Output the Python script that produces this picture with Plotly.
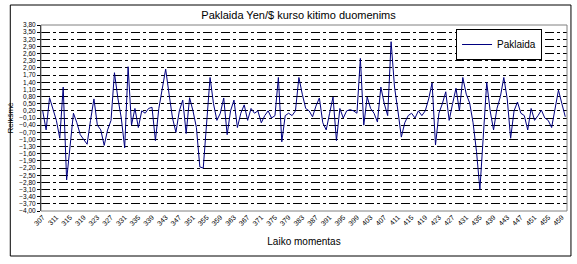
import plotly.graph_objects as go

# Data: time moments (categories) and error values
moments = list(range(307, 461))
paklaida = [
    0.2, -0.6, 0.75, 0.3, -0.2, -0.95, 1.2, -2.7, -1.4, 0.1,
    -0.3, -0.8, -1.0, -1.2, -0.2, 0.7, -0.4, -0.6, -1.25, -0.6,
    -0.2, 1.8, 0.74, -0.1, -1.35, 2.05, -0.4, 0.3, -0.5, 0.2,
    0.1, 0.3, 0.35, -1.05, 0.3, 1.2, 1.95, 0.9, -0.1, -0.7,
    0.2, 0.65, -0.75, 0.75, 0.2, -0.5, -2.15, -2.2, -0.3, 1.6,
    0.5, -0.2, 0.1, 0.74, -0.8, 0.2, 0.65, -0.5, 0.1, 0.45,
    -0.2, 0.3, 0.1, 0.2, -0.3, 0.0, 0.2, -0.1, 0.0, 1.6,
    -1.1, 0.0, 0.1, 0.0, 0.2, 1.6, 0.9, 0.3, 0.2, -0.05,
    0.4, 0.74, -0.3, -0.6, 0.1, 0.78, -1.05, 0.3, -0.1, 0.2,
    0.25, 0.2, 0.1, 2.4, -0.4, 0.78, 0.3, 0.1, -0.27, 1.2,
    0.5, 0.0, 3.1, 1.2, 0.2, -0.9, -0.3, 0.0, 0.1, -0.1,
    0.2, 0.0, 0.2, 0.7, 1.37, -1.23, 0.1, 0.5, 1.0, -0.2,
    0.5, 1.15, 0.2, 1.6, 0.9, 0.53, -0.3, -1.5, -3.1, -1.0,
    1.4, 0.2, -0.6, 0.3, 0.8, 1.6, 0.7, -0.95, 0.2, 0.57,
    0.1, 0.0, -0.6, 0.3, -0.2, 0.0, 0.23, -0.1, -0.2, -0.5,
    0.3, 1.07, 0.5, -0.05,
]
series_name = "Paklaida"
title_text = "Paklaida Yen/$ kurso kitimo duomenims"
x_title = "Laiko momentas"
y_title = "Reikšmė"
y_min, y_max, y_step = -4.0, 3.8, 0.3
x_label_step = 4

FONT = "Arial, Liberation Sans, sans-serif"

fig = go.Figure()
fig.add_trace(go.Scatter(
    x=moments, y=paklaida, mode="lines", name=series_name,
    line=dict(color="#000080", width=1),
))

L, R, T, B = 36, 10, 25, 53
W, H = 577, 264
pw, ph = W - L - R, H - T - B


def px_to_paper_x(px):
    return (px - L) / pw


def px_to_paper_y(py):
    return (H - B - py) / ph


fig.update_layout(
    width=W, height=H,
    margin=dict(l=L, r=R, t=T, b=B, pad=0),
    paper_bgcolor="white", plot_bgcolor="white",
    separators=",.",
    font=dict(family=FONT, size=9, color="black"),
    title=dict(text=title_text, x=px_to_paper_x(296), xref="paper", xanchor="center",
               y=1 - 15 / H, yanchor="middle",
               font=dict(family=FONT, size=11, color="black")),
    showlegend=True,
    legend=dict(x=px_to_paper_x(455), y=px_to_paper_y(29), xanchor="left", yanchor="top",
                bgcolor="white", bordercolor="black", borderwidth=1,
                font=dict(family=FONT, size=10, color="black"),
                tracegroupgap=0, itemwidth=30),
    xaxis=dict(
        range=[moments[0] - 0.5, moments[-1] + 0.5],
        tick0=moments[0], dtick=x_label_step, tickmode="linear",
        tickangle=-45, tickfont=dict(family=FONT, size=7),
        showgrid=False, zeroline=False, showline=False,
        ticks="", ticklen=0,
        title=dict(text=x_title, font=dict(family=FONT, size=10), standoff=12),
    ),
    yaxis=dict(
        range=[y_min, y_max],
        tick0=y_min, dtick=y_step, tickmode="linear", tickformat=".2f",
        tickfont=dict(family=FONT, size=6.5),
        showgrid=True, gridcolor="black", gridwidth=1, griddash="dashdot",
        zeroline=False, showline=True, linecolor="black", linewidth=1,
        ticks="outside", ticklen=3, tickcolor="black",
        title=dict(text=y_title, font=dict(family=FONT, size=8), standoff=4),
    ),
    shapes=[
        dict(type="rect", xref="paper", yref="paper", x0=0, x1=1, y0=0, y1=1,
             line=dict(color="#808080", width=1), fillcolor="rgba(0,0,0,0)", layer="above"),
        dict(type="rect", xref="paper", yref="paper",
             x0=px_to_paper_x(5), x1=px_to_paper_x(571),
             y0=px_to_paper_y(256), y1=px_to_paper_y(5),
             line=dict(color="black", width=1), fillcolor="rgba(0,0,0,0)", layer="above"),
    ],
)

fig.write_html("out.html")
